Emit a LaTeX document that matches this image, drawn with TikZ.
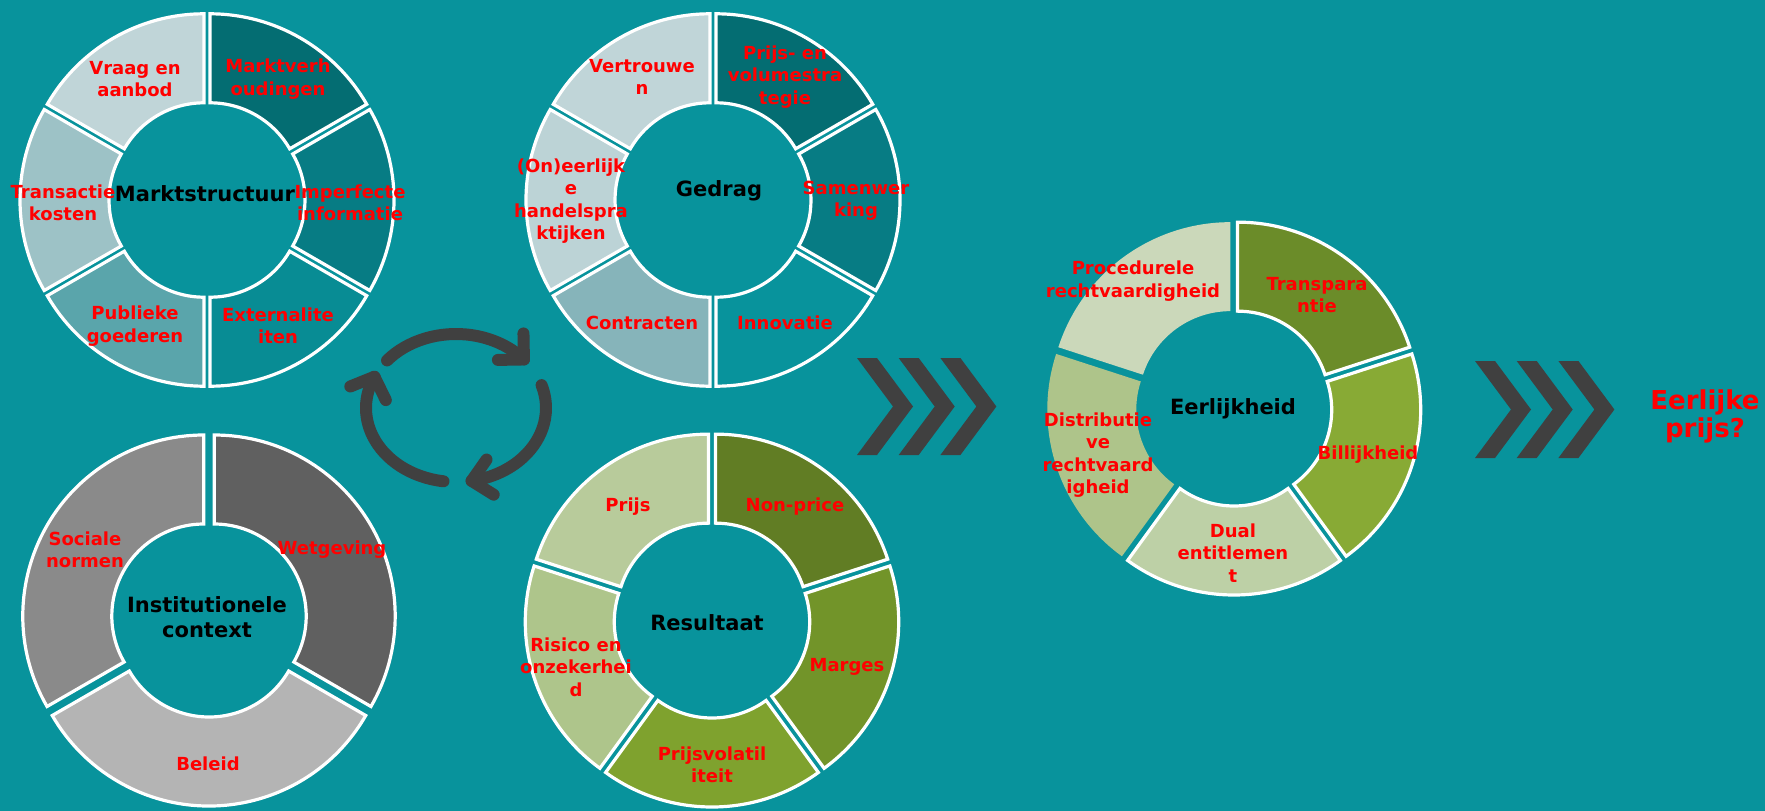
\documentclass[tikz,border=0pt]{standalone}
\usepackage{fontspec}
\setmainfont{DejaVu Sans}
\definecolor{bgteal}{HTML}{08939C}
\definecolor{tealA}{HTML}{046D72}
\definecolor{tealB}{HTML}{077C84}
\definecolor{tealC}{HTML}{088C94}
\definecolor{tealD}{HTML}{5AA5AB}
\definecolor{tealE}{HTML}{9DC2C6}
\definecolor{tealF}{HTML}{C0D5D8}
\definecolor{tealG}{HTML}{86B4BA}
\definecolor{tealH}{HTML}{BCD3D6}
\definecolor{greyA}{HTML}{606060}
\definecolor{greyB}{HTML}{B4B4B4}
\definecolor{greyC}{HTML}{8A8A8A}
\definecolor{olA}{HTML}{617D24}
\definecolor{olB}{HTML}{729429}
\definecolor{olC}{HTML}{7FA22E}
\definecolor{olD}{HTML}{AEC58B}
\definecolor{olE}{HTML}{B8CB9B}
\definecolor{olF}{HTML}{6B8C29}
\definecolor{olG}{HTML}{88AA35}
\definecolor{olH}{HTML}{BDD0A6}
\definecolor{olI}{HTML}{AEC48A}
\definecolor{olJ}{HTML}{CBD8BA}
\definecolor{icongrey}{HTML}{404040}
\newcommand\RingOut{181}
\newcommand\RingIn{92}
\newcommand\RingD{6}
\newcommand\ringseg[6]{%
  \pgfmathsetmacro\rsmid{(#3+#4)/2}%
  \pgfmathsetmacro\rsx{#1+\RingD*cos(\rsmid)}%
  \pgfmathsetmacro\rsy{#2+\RingD*sin(\rsmid)}%
  \path[fill=#5,#6] ([shift={(#3:\RingOut)}]\rsx,\rsy) arc[start angle=#3, end angle=#4, radius=\RingOut]
    -- ([shift={(#4:\RingIn)}]\rsx,\rsy) arc[start angle=#4, end angle=#3, radius=\RingIn] -- cycle;%
}
\newcommand\chev[2]{\fill[icongrey] (#1,#2) -- ++(20,0) -- ++(36,-48.5) -- ++(-36,-48.5) -- ++(-20,0) -- ++(36,48.5) -- cycle;}
\tikzset{
  wb/.style={draw=white, line width=3.2},
  nb/.style={draw=none},
  lbl/.style={text=red, font=\bfseries\fontsize{18}{22.5}\selectfont, align=center, inner sep=0pt},
  ctr/.style={text=black, font=\bfseries\fontsize{21}{25}\selectfont, align=center, inner sep=0pt},
  iconline/.style={draw=icongrey, line width=12, line cap=round, line join=round},
}
\begin{document}
\begin{tikzpicture}[x=1pt, y=1pt]
\useasboundingbox (0,0) rectangle (1765,-811);
\fill[bgteal] (0,0) rectangle (1765,-811);

% Ring 1: Marktstructuur
\ringseg{207}{-200}{90}{30}{tealA}{wb}
\ringseg{207}{-200}{30}{-30}{tealB}{wb}
\ringseg{207}{-200}{-30}{-90}{tealC}{wb}
\ringseg{207}{-200}{-90}{-150}{tealD}{wb}
\ringseg{207}{-200}{-150}{-210}{tealE}{wb}
\ringseg{207}{-200}{150}{90}{tealF}{wb}
\node[ctr] (mcenter) at (205,-194) {Marktstructuur};
\node[lbl] (m1) at (135,-79) {Vraag en\\aanbod};
\node[lbl] (m2) at (278,-79) {Marktverh\\oudingen};
\node[lbl] (m3) at (63,-203) {Transactie\\kosten};
\node[lbl] (m4) at (350,-203) {Imperfecte\\informatie};
\node[lbl] (m5) at (135,-326) {Publieke\\goederen};
\node[lbl] (m6) at (278,-326) {Externalite\\iten};

% Ring 2: Gedrag
\ringseg{713}{-200}{90}{30}{tealA}{wb}
\ringseg{713}{-200}{30}{-30}{tealB}{wb}
\ringseg{713}{-200}{-30}{-90}{bgteal}{wb}
\ringseg{713}{-200}{-90}{-150}{tealG}{wb}
\ringseg{713}{-200}{-150}{-210}{tealH}{wb}
\ringseg{713}{-200}{150}{90}{tealF}{wb}
\node[ctr] (gcenter) at (719,-191) {Gedrag};
\node[lbl] (g1) at (642,-77) {Vertrouwe\\n};
\node[lbl] (g2) at (785,-77) {Prijs- en\\volumestra\\tegie};
\node[lbl] (g3) at (571,-201) {(On)eerlijk\\e\\handelspra\\ktijken};
\node[lbl] (g4) at (856,-201) {Samenwer\\king};
\node[lbl] (g5) at (642,-323) {Contracten};
\node[lbl] (g6) at (785,-323) {Innovatie};

% Ring 3: Institutionele context
\ringseg{209}{-619}{90}{-30}{greyA}{wb}
\ringseg{209}{-619}{-30}{-150}{greyB}{wb}
\ringseg{209}{-619}{210}{90}{greyC}{wb}
\node[ctr] (icenter) at (207,-617) {Institutionele\\context};
\node[lbl] (i1) at (85,-550) {Sociale\\normen};
\node[lbl] (i2) at (332,-550) {Wetgeving};
\node[lbl] (i3) at (208,-764) {Beleid};

% Ring 4: Resultaat
\ringseg{712}{-620}{90}{18}{olA}{wb}
\ringseg{712}{-620}{18}{-54}{olB}{wb}
\ringseg{712}{-620}{-54}{-126}{olC}{wb}
\ringseg{712}{-620}{-126}{-198}{olD}{wb}
\ringseg{712}{-620}{162}{90}{olE}{wb}
\node[ctr] (rcenter) at (707,-623) {Resultaat};
\node[lbl] (r1) at (628,-507) {Prijs};
\node[lbl] (r2) at (795,-507) {Non-price};
\node[lbl] (r3) at (576,-667) {Risico en\\onzekerhei\\d};
\node[lbl] (r4) at (847,-667) {Marges};
\node[lbl] (r5) at (712,-765) {Prijsvolatil\\iteit};

% Ring 5: Eerlijkheid
\ringseg{1234}{-408}{90}{18}{olF}{wb}
\ringseg{1234}{-408}{18}{-54}{olG}{wb}
\ringseg{1234}{-408}{-54}{-126}{olH}{wb}
\ringseg{1234}{-408}{-126}{-198}{olI}{nb}
\ringseg{1234}{-408}{162}{90}{olJ}{nb}
\node[ctr] (ecenter) at (1233,-409) {Eerlijkheid};
\node[lbl] (e1) at (1133,-281) {Procedurele\\rechtvaardigheid};
\node[lbl] (e2) at (1317,-295) {Transpara\\ntie};
\node[lbl] (e3) at (1098,-455) {Distributie\\ve\\rechtvaard\\igheid};
\node[lbl] (e4) at (1368,-455) {Billijkheid};
\node[lbl] (e5) at (1233,-553) {Dual\\entitlemen\\t};

% cycle icon
\draw[iconline] (456,-408) ++(140:90 and 74) arc[start angle=140, end angle=41, x radius=90, y radius=74] coordinate (tipA);
\draw[iconline] (tipA) ++(91:26) -- (tipA) -- ++(181:26);
\draw[iconline] (456,-408) ++(18:90 and 74) arc[start angle=18, end angle=-80, x radius=90, y radius=74] coordinate (tipB);
\draw[iconline] (tipB) ++(55:26) -- (tipB) -- ++(-32:26);
\draw[iconline] (456,-408) ++(262:90 and 74) arc[start angle=262, end angle=155, x radius=90, y radius=74] coordinate (tipC);
\draw[iconline] (tipC) ++(202:26) -- (tipC) -- ++(296:26);

% chevrons
\chev{857}{-358}\chev{898.7}{-358}\chev{940.4}{-358}
\chev{1475}{-361}\chev{1516.7}{-361}\chev{1558.4}{-361}

\node[text=red, font=\bfseries\fontsize{26}{28}\selectfont, align=center, inner sep=0pt] (fair) at (1705,-416) {Eerlijke\\prijs?};
\end{tikzpicture}
\end{document}
